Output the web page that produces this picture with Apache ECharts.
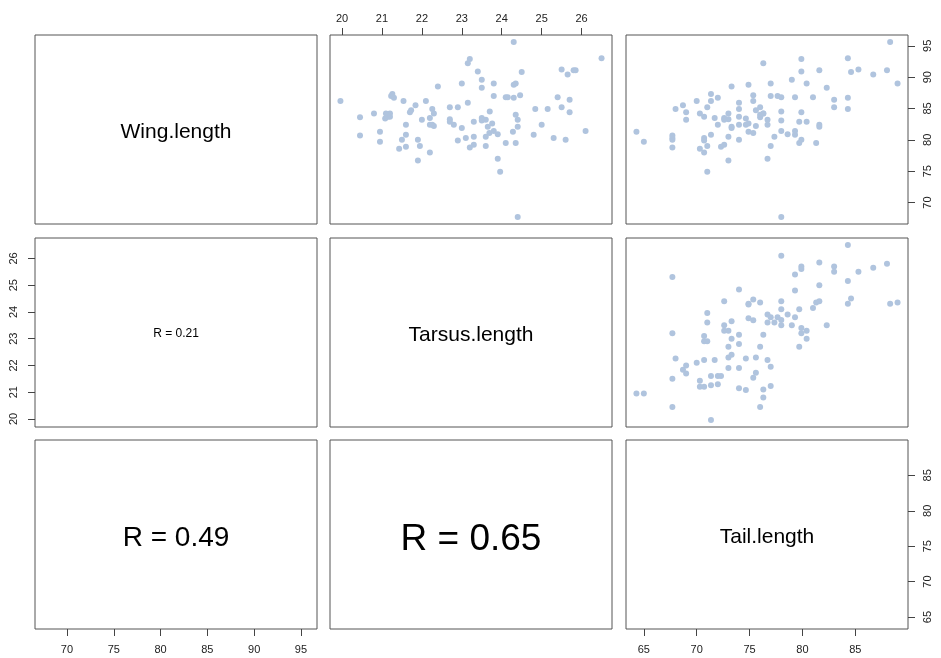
<!DOCTYPE html>
<html>
<head>
<meta charset="utf-8">
<script src="https://cdn.jsdelivr.net/npm/echarts@6/dist/echarts.min.js"></script>
<style>
  html, body { margin: 0; padding: 0; background: #ffffff; }
  #chart { width: 941px; height: 658px; }
</style>
</head>
<body>
<div id="chart"></div>
<script>
// Scatterplot matrix of three body measurements (one entry per bird)
const variableNames = ['Wing.length', 'Tarsus.length', 'Tail.length'];

const wingLength = [
  81.3, 79.7,
  80.3, 78.8, 80.0, 80.7,
  84.9, 85.5, 83.2, 84.4, 86.2, 78.6, 84.2,
  80.3, 78.0, 83.7, 79.9,
  74.9, 79.0, 85.2,
  86.2, 80.8, 87.3,
  83.5, 82.4, 86.7, 78.9,
  79.2, 83.5, 83.2,
  76.7, 80.5, 83.3, 84.2,
  88.5, 81.9, 82.1,
  84.9, 85.9, 82.4, 80.0, 83.7,
  82.4, 83.4,
  88.8, 82.6, 81.3,
  87.1, 86.2, 81.1,
  84.7, 82.2,
  83.6, 85.2, 84.0,
  92.2, 84.2, 84.2,
  77.0, 83.2, 82.4,
  89.0, 87.0, 79.0,
  80.5, 87.0,
  67.7, 81.4, 86.8, 84.5, 83.1,
  80.9, 89.6,
  86.8, 80.8, 81.4,
  79.5, 82.9,
  92.9, 90.9, 84.4, 80.0,
  82.9, 89.0,
  86.8, 79.5,
  91.1, 82.4, 82.1,
  88.3,
  86.4, 85.2,
  93.0, 84.9, 86.7,
  90.8, 91.2, 90.4, 91.1, 95.6, 89.0
];

const tarsusLength = [
  20.95, 20.95,
  25.3, 23.2, 21.5, 20.45,
  22.26, 21.84, 22.0, 21.7, 22.1, 21.43, 21.2,
  23.1, 22.2, 21.2, 22.9,
  23.96, 23.6, 22.9,
  19.96, 21.6, 21.26,
  22.2, 21.6, 21.3, 21.6,
  23.3, 23.5, 24.4,
  21.9, 23.3, 22.7, 22.3,
  22.4, 23.0, 23.65,
  24.84, 23.15, 22.8, 21.9, 21.15,
  22.26, 21.08,
  24.3, 23.76, 24.28,
  24.46, 21.54, 23.69,
  21.73, 22.3,
  20.45, 22.7, 24.35,
  23.15, 20.8, 21.1,
  23.9, 23.6, 22.2,
  23.8, 21.23, 21.95,
  23.6, 23.8,
  24.4, 26.1, 24.1, 23.7, 23.5,
  23.9, 23.5,
  25.4, 24.8, 23.8,
  24.1, 22.7,
  23.2, 23.4, 25.7, 25.6,
  23.3, 23.0,
  24.15, 24.35,
  25.85, 25.0, 24.4,
  23.5,
  25.7, 25.5,
  26.5, 25.15, 24.3,
  24.5, 25.5, 25.65, 25.8, 24.3, 24.35
];

const tailLength = [
  64.3, 65.0,
  67.7, 67.7, 67.7, 67.7,
  68.0, 68.7, 69.0, 69.0, 70.0, 70.3, 70.3,
  70.7, 70.7, 70.7, 70.7,
  71.0, 71.0, 71.0,
  71.35, 71.35, 71.35,
  71.7, 72.0, 72.0, 72.3,
  72.6, 72.6, 72.6,
  73.0, 73.0, 73.0, 73.0,
  73.3, 73.3, 73.3,
  74.0, 74.0, 74.0, 74.0, 74.0,
  74.65, 74.65,
  74.9, 74.9, 74.9,
  75.35, 75.35, 75.35,
  75.6, 75.6,
  76.0, 76.0, 76.0,
  76.3, 76.3, 76.3,
  76.7, 76.7, 76.7,
  77.0, 77.0, 77.0,
  77.35, 77.65,
  78.0, 78.0, 78.0, 78.0, 78.0,
  78.6, 79.0,
  79.3, 79.3, 79.3,
  79.7, 79.7,
  79.9, 79.9, 79.9, 79.9,
  80.4, 80.4,
  81.0, 81.3,
  81.6, 81.6, 81.6,
  82.3,
  83.0, 83.0,
  84.3, 84.3, 84.3,
  84.6, 85.3, 86.7, 88.0, 88.3, 89.0
];

const wingTicks = [70, 75, 80, 85, 90, 95];
const tarsusTicks = [20, 21, 22, 23, 24, 25, 26];
const tailTicks = [65, 70, 75, 80, 85];

// correlation labels for the lower panels: (row, col) and text
const corrLabels = ['R = 0.21', 'R = 0.49', 'R = 0.65'];
const corrCells = [[1, 0], [2, 0], [2, 1]];
const corrFontSizes = [12, 28, 37];

// ---- layout ----
const colLeft = [35, 330, 626];
const rowTop = [35, 238, 440];
const panelW = 282;
const panelH = 189;
const FONT = '"Liberation Sans", Arial, Helvetica, sans-serif';
const POINT_COLOR = '#B0C4DE';

const variables = [wingLength, tarsusLength, tailLength];
const ticks = [wingTicks, tarsusTicks, tailTicks];

function paddedRange(vals) {
  const lo = Math.min(...vals), hi = Math.max(...vals);
  const pad = (hi - lo) * 0.04;
  return [lo - pad, hi + pad];
}
const ranges = variables.map(paddedRange);

// which panel edges carry labelled axes
function xLabelPos(r, c) {
  if (r === 0 && c === 1) return 'top';
  if (r === 2 && (c === 0 || c === 2)) return 'bottom';
  return null;
}
function yLabelPos(r, c) {
  if (r === 0 && c === 2) return 'right';
  if (r === 2 && c === 2) return 'right';
  if (r === 1 && c === 0) return 'left';
  return null;
}

const grids = [], xAxes = [], yAxes = [], series = [];

function makeAxis(varIdx, gridIndex, pos, defaultPos, vertical) {
  const show = pos !== null;
  let margin = 14;
  if (pos === 'top') margin = 11;
  if (pos === 'bottom') margin = 15;
  if (pos === 'left') margin = 16;
  if (pos === 'right') margin = 14;
  return {
    type: 'value',
    gridIndex: gridIndex,
    min: ranges[varIdx][0],
    max: ranges[varIdx][1],
    position: show ? pos : defaultPos,
    axisLine: { show: false },
    splitLine: { show: false },
    axisTick: {
      show: show, inside: false, length: 7,
      lineStyle: { color: '#444', width: 1 },
      customValues: ticks[varIdx]
    },
    axisLabel: {
      show: show,
      customValues: ticks[varIdx],
      fontFamily: FONT,
      fontSize: 11,
      color: '#222',
      margin: margin,
      rotate: vertical ? 90 : 0
    }
  };
}

for (let r = 0; r < 3; r++) {
  for (let c = 0; c < 3; c++) {
    const gi = r * 3 + c;
    grids.push({
      left: colLeft[c], top: rowTop[r], width: panelW, height: panelH,
      show: true, borderColor: '#555', borderWidth: 1,
      backgroundColor: 'rgba(0,0,0,0)',
      containLabel: false, outerBoundsMode: 'none'
    });
    xAxes.push(makeAxis(c, gi, xLabelPos(r, c), 'bottom', false));
    yAxes.push(makeAxis(r, gi, yLabelPos(r, c), 'left', true));
    if (c > r) {
      const xs = variables[c], ys = variables[r];
      series.push({
        type: 'scatter',
        xAxisIndex: gi, yAxisIndex: gi,
        symbol: 'circle', symbolSize: 6,
        itemStyle: { color: POINT_COLOR, opacity: 1 },
        silent: true,
        data: xs.map((v, i) => [v, ys[i]])
      });
    }
  }
}

// centred panel text; nudged down so the capital letters sit on the panel centre
function panelText(r, c, text, size) {
  return {
    type: 'text',
    x: colLeft[c] + panelW / 2,
    y: rowTop[r] + panelH / 2 + size * 0.14,
    style: {
      text: text, fontFamily: FONT, fontSize: size,
      fill: '#000', align: 'center', verticalAlign: 'middle'
    }
  };
}

const texts = [];
for (let k = 0; k < 3; k++) texts.push(panelText(k, k, variableNames[k], 21));
corrCells.forEach(([r, c], k) => texts.push(panelText(r, c, corrLabels[k], corrFontSizes[k])));

const chart = echarts.init(document.getElementById('chart'), null, { renderer: 'canvas' });
chart.setOption({
  animation: false,
  backgroundColor: '#ffffff',
  grid: grids,
  xAxis: xAxes,
  yAxis: yAxes,
  series: series,
  graphic: texts
});
</script>
</body>
</html>
